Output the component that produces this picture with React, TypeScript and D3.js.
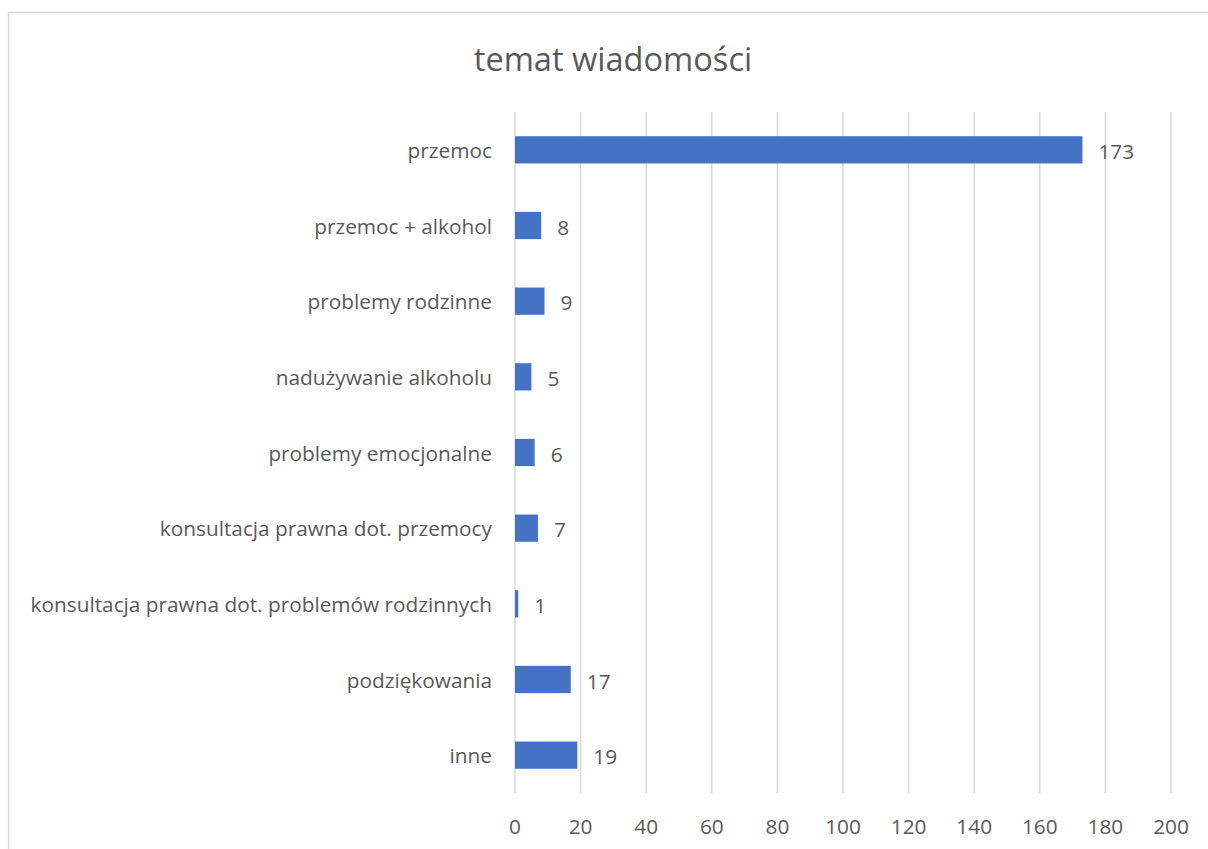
import React from "react";
import * as d3 from "d3";

const categories = [
  "przemoc",
  "przemoc + alkohol",
  "problemy rodzinne",
  "nadużywanie alkoholu",
  "problemy emocjonalne",
  "konsultacja prawna dot. przemocy",
  "konsultacja prawna dot. problemów rodzinnych",
  "podziękowania",
  "inne",
];
const values = [173, 8, 9, 5, 6, 7, 1, 17, 19];
const xTicks = [0, 20, 40, 60, 80, 100, 120, 140, 160, 180, 200];

const W = 1208;
const H = 849;
const plot = { left: 515, right: 1171, top: 112, bottom: 793 };
const font = "'Open Sans', sans-serif";
const textColor = "#595959";
const fs = 20.8;

export default function App() {
  const x = d3.scaleLinear().domain([0, 200]).range([plot.left, plot.right]);
  const y = d3
    .scaleBand<string>()
    .domain(categories)
    .range([plot.top, plot.bottom])
    .paddingInner(0.64)
    .paddingOuter(0.32);

  return (
    <svg
      width={W}
      height={H}
      style={{ position: "absolute", left: 0, top: 0, background: "#fff" }}
    >
      <rect x={8.5} y={12.5} width={W + 10} height={H + 10} fill="#fff" stroke="#d9d9d9" strokeWidth={1.5} />
      <text
        x={613}
        y={58}
        textAnchor="middle"
        dominantBaseline="central"
        fontFamily={font}
        fontSize={32.6}
        fill={textColor}
      >
        temat wiadomości
      </text>

      {/* gridlines */}
      {xTicks.map((t) => (
        <line
          key={t}
          x1={x(t)}
          x2={x(t)}
          y1={plot.top}
          y2={plot.bottom}
          stroke="#d9d9d9"
          strokeWidth={1.5}
        />
      ))}

      {/* x tick labels */}
      {xTicks.map((t) => (
        <text
          key={"l" + t}
          x={x(t)}
          y={826}
          textAnchor="middle"
          dominantBaseline="central"
          fontFamily={font}
          fontSize={fs}
          fill={textColor}
        >
          {t}
        </text>
      ))}

      {/* bars */}
      {categories.map((c, i) => {
        const y0 = y(c)!;
        const cy = y0 + y.bandwidth() / 2;
        return (
          <g key={c}>
            <rect
              x={x(0)}
              y={y0}
              width={x(values[i]) - x(0)}
              height={y.bandwidth()}
              fill="#4472C4"
            />
            <text
              x={x(0) - 23}
              y={cy}
              textAnchor="end"
              dominantBaseline="central"
              fontFamily={font}
              fontSize={fs}
              fill={textColor}
            >
              {c}
            </text>
            <text
              x={x(values[i]) + 16}
              y={cy + 1}
              textAnchor="start"
              dominantBaseline="central"
              fontFamily={font}
              fontSize={fs}
              fill={textColor}
            >
              {values[i]}
            </text>
          </g>
        );
      })}
    </svg>
  );
}
